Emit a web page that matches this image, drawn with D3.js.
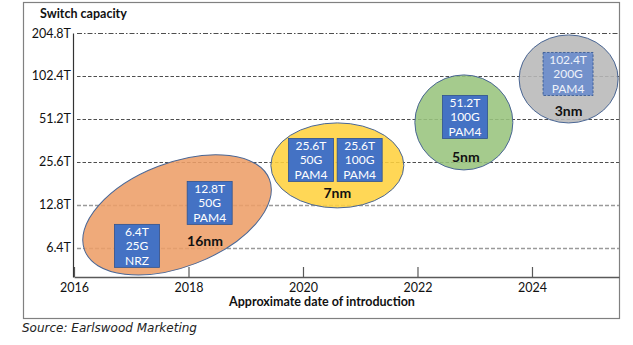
<!DOCTYPE html>
<html>
<head>
<meta charset="utf-8">
<script src="https://cdn.jsdelivr.net/npm/d3@7"></script>
<style>
  body { margin: 0; background: #fff; }
  text { font-family: Lato, "Open Sans", sans-serif; }
</style>
</head>
<body>
<div id="wrapper"></div>
<script>
// chips: capacity, serdes speed, modulation, approx year
const chipCapacity = [6.4, 12.8, 25.6, 25.6, 51.2, 102.4];
const chipYear = [2017.1, 2018.37, 2020.14, 2020.99, 2022.83, 2024.63];
const chipLabel = ["6.4T", "12.8T", "25.6T", "25.6T", "51.2T", "102.4T"];
const chipSerdes = ["25G", "50G", "50G", "100G", "100G", "200G"];
const chipModulation = ["NRZ", "PAM4", "PAM4", "PAM4", "PAM4", "PAM4"];
const chipFuture = [false, false, false, false, false, true];

// process node groupings
const nodeNames = ["16nm", "7nm", "5nm", "3nm"];
const nodeYear = [2017.8, 2020.6, 2022.81, 2024.64];
const nodeCapacity = [10.9, 24.2, 48.4, 97.6];

const yTicks = [6.4, 12.8, 25.6, 51.2, 102.4, 204.8];
const yTickLabels = ["6.4T", "12.8T", "25.6T", "51.2T", "102.4T", "204.8T"];
const xTicks = [2016, 2018, 2020, 2022, 2024];

// styles for the node ellipses
const nodeStyle = [
  { rx: 99, ry: 52, rot: -21, fill: "#ed9e68", dx: 28, dy: 31 },
  { rx: 66.5, ry: 42.5, rot: 0, fill: "#ffd23f", dx: 0, dy: 33 },
  { rx: 49, ry: 47.5, rot: 0, fill: "#98c47d", dx: 2, dy: 40 },
  { rx: 49.5, ry: 44, rot: 0, fill: "#b8b8b8", dx: 0, dy: 37 },
]

const dimensions = {
  width: 633,
  height: 345,
}

const svg = d3.select("#wrapper")
  .append("svg")
  .attr("width", dimensions.width)
  .attr("height", dimensions.height)

// outer frame
svg.append("rect")
  .attr("x", 23.5).attr("y", 2.5)
  .attr("width", 596).attr("height", 316)
  .attr("fill", "none")
  .attr("stroke", "#808080")
  .attr("stroke-width", 1.2)

const xScale = d3.scaleLinear()
  .domain([2016, 2025.52])
  .range([74, 619])

const yScale = d3.scaleLog()
  .base(2)
  .domain([4.0, 204.8])
  .range([277, 33])

// gridlines
svg.append("g")
  .selectAll("line")
  .data(yTicks)
  .join("line")
  .attr("x1", 77)
  .attr("x2", 619)
  .attr("y1", d => Math.round(yScale(d)) + 0.5)
  .attr("y2", d => Math.round(yScale(d)) + 0.5)
  .attr("stroke", d => d < 20 ? "#9a9a9a" : "#3a3a3a")
  .attr("stroke-width", d => d < 20 ? 1.6 : 0.9)
  .attr("stroke-dasharray", d => d > 200 ? "5,2,1.5,2" : d < 20 ? "4,2" : "3.5,2")

// ellipses
const nodes = svg.append("g")
  .selectAll("g")
  .data(nodeNames)
  .join("g")
  .attr("transform", (d, i) => `translate(${xScale(nodeYear[i])},${yScale(nodeCapacity[i])})`)

nodes.append("ellipse")
  .attr("rx", (d, i) => nodeStyle[i].rx)
  .attr("ry", (d, i) => nodeStyle[i].ry)
  .attr("transform", (d, i) => `rotate(${nodeStyle[i].rot})`)
  .attr("fill", (d, i) => nodeStyle[i].fill)
  .attr("fill-opacity", 0.88)
  .attr("stroke", "#4a6694")
  .attr("stroke-width", 1)

nodes.append("text")
  .attr("x", (d, i) => nodeStyle[i].dx)
  .attr("y", (d, i) => nodeStyle[i].dy)
  .attr("text-anchor", "middle")
  .attr("font-size", 14)
  .attr("font-weight", "bold")
  .attr("fill", "#111")
  .text(d => d)

// chip boxes
const chips = svg.append("g")
  .selectAll("g")
  .data(chipLabel)
  .join("g")
  .attr("transform", (d, i) => `translate(${xScale(chipYear[i])},${yScale(chipCapacity[i]) - 2})`)

chips.append("rect")
  .attr("x", (d, i) => chipFuture[i] ? -25 : -22.5)
  .attr("y", -21.5)
  .attr("width", (d, i) => chipFuture[i] ? 50 : 45)
  .attr("height", 43)
  .attr("fill", (d, i) => chipFuture[i] ? "#7391cb" : "#4472c4")
  .attr("stroke", "#2f528f")
  .attr("stroke-width", 0.8)
  .attr("stroke-dasharray", (d, i) => chipFuture[i] ? "2.5,1.5" : null)

chips.each(function(d, i) {
  const lines = [chipLabel[i], chipSerdes[i], chipModulation[i]]
  d3.select(this).selectAll("text")
    .data(lines)
    .join("text")
    .attr("y", (t, j) => (j - 1) * 14.5 + 4.5)
    .attr("text-anchor", "middle")
    .attr("font-size", 12)
    .attr("fill", (t) => chipFuture[i] ? "#eef2fa" : "#fff")
    .text(t => t)
})

// axes
const xAxisGenerator = d3.axisBottom(xScale)
  .tickValues(xTicks)
  .tickFormat(d3.format("d"))
  .tickSize(-10)
  .tickSizeOuter(0)
  .tickPadding(6)

const xAxis = svg.append("g")
  .attr("transform", "translate(0,277)")
  .call(xAxisGenerator)

xAxis.select(".domain").attr("stroke", "#595959").attr("stroke-width", 1.5)
xAxis.selectAll(".tick line").attr("stroke", "#595959").attr("stroke-width", 1.2)
xAxis.selectAll(".tick text")
  .attr("font-family", "Lato")
  .attr("font-size", 12.5)
  .attr("fill", "#111")

const yAxisGenerator = d3.axisLeft(yScale)
  .tickValues(yTicks)
  .tickFormat((d, i) => yTickLabels[i])
  .tickSize(0)
  .tickSizeOuter(0)
  .tickPadding(2)

const yAxis = svg.append("g")
  .attr("transform", "translate(73,0)")
  .call(yAxisGenerator)

yAxis.select(".domain").attr("stroke", "#333").attr("stroke-width", 1.2)
yAxis.selectAll(".tick text")
  .attr("font-family", "Lato")
  .attr("font-size", 12.5)
  .attr("fill", "#111")

// titles
svg.append("text")
  .attr("x", 40)
  .attr("y", 18)
  .attr("font-size", 12.5)
  .attr("font-weight", "bold")
  .attr("fill", "#111")
  .text("Switch capacity")

svg.append("text")
  .attr("x", 322)
  .attr("y", 306)
  .attr("text-anchor", "middle")
  .attr("font-size", 12.5)
  .attr("font-weight", "bold")
  .attr("fill", "#111")
  .text("Approximate date of introduction")

svg.append("text")
  .attr("x", 22)
  .attr("y", 332)
  .style("font-family", "DejaVu Sans")
  .style("font-style", "italic")
  .attr("font-size", 12)
  .attr("fill", "#222")
  .text("Source: Earlswood Marketing")
</script>
</body>
</html>
